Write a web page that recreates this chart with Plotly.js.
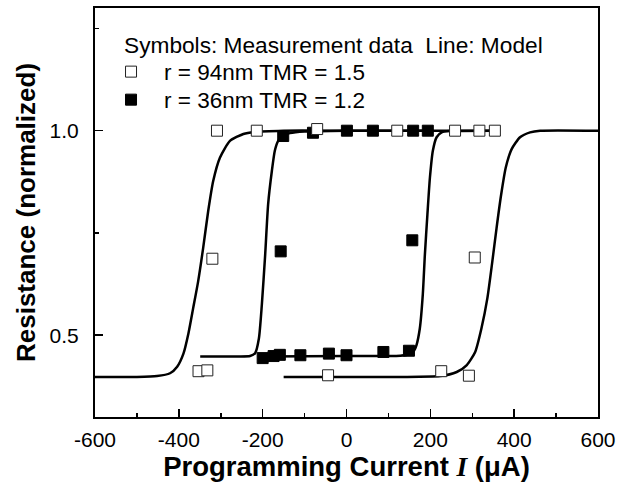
<!DOCTYPE html>
<html>
<head>
<meta charset="utf-8">
<script src="https://cdn.plot.ly/plotly-3.0.1.min.js"></script>
<style>
  html, body { margin: 0; padding: 0; background: #fff; }
  #chart { width: 621px; height: 491px; }
</style>
</head>
<body>
<div id="chart"></div>
<script>
// Measured points, r = 94nm (TMR = 1.5): current in uA, normalized resistance
const meas94X = [-309, -214, -70, 121, 259, 317, 354, -320, 306, -353, -332, -44, 226, 292];
const meas94Y = [1.0, 1.0, 1.004, 1.0, 1.0, 1.0, 1.0, 0.687, 0.690, 0.412, 0.414, 0.402, 0.412, 0.401];

// Measured points, r = 36nm (TMR = 1.2)
const meas36X = [-151, -80, 1, 63, 159, 194, -157, 157, -200, -174, -159, -110, -42, 0, 88, 149];
const meas36Y = [0.987, 0.995, 1.0, 1.0, 1.0, 1.0, 0.705, 0.732, 0.444, 0.449, 0.452, 0.451, 0.455, 0.451, 0.459, 0.462];

// Model curves, r = 94nm: switching branch near -350 uA and near +350 uA
const model94aX = [-600, -500, -452, -421, -404, -389, -377, -366, -354, -342, -330, -318, -302, -278, -246, -220, -150, 0, 200, 366];
const model94aY = [0.398, 0.398, 0.400, 0.407, 0.423, 0.455, 0.505, 0.565, 0.631, 0.713, 0.803, 0.877, 0.934, 0.975, 0.992, 0.997, 1.0, 1.0, 1.0, 1.0];
const model94bX = [-150, 0, 128, 223, 263, 287, 307, 322, 336, 348, 358, 369, 380, 394, 414, 438, 462, 600];
const model94bY = [0.398, 0.398, 0.398, 0.400, 0.410, 0.427, 0.459, 0.517, 0.590, 0.681, 0.762, 0.844, 0.910, 0.955, 0.984, 0.996, 1.0, 1.0];

// Model curves, r = 36nm: switching near -195 uA and near +185 uA
const model36aX = [-349, -260, -230, -218, -209, -202, -194, -187, -178, -171, -163, -151, -135, -100, 0, 200];
const model36aY = [0.448, 0.448, 0.449, 0.456, 0.492, 0.574, 0.697, 0.820, 0.902, 0.951, 0.975, 0.988, 0.994, 0.998, 1.0, 1.0];
const model36bX = [-200, 0, 128, 151, 161, 167, 175, 182, 187, 193, 199, 206, 215, 227, 247, 366];
const model36bY = [0.448, 0.449, 0.450, 0.454, 0.462, 0.476, 0.517, 0.599, 0.697, 0.795, 0.885, 0.951, 0.984, 0.996, 0.999, 1.0];

// Axis tick positions and their labels
const xTickVals = [-600, -400, -200, 0, 200, 400, 600];
const xTickText = ['-600', '-400', '-200', '0', '200', '400', '600'];
const yTickVals = [0.5, 1.0];
const yTickText = ['0.5', '1.0'];

const xTitle = 'Programming Current <i><span style="font-family:\'Times New Roman\',\'Liberation Serif\',serif">I</span></i> (μA)';
const yTitle = 'Resistance (normalized)';
const headerText = 'Symbols: Measurement data\u00a0\u00a0Line: Model';
const name94 = 'r = 94nm TMR = 1.5';
const name36 = 'r = 36nm TMR = 1.2';

const FONT = 'Arial, "Liberation Sans", Helvetica, sans-serif';

function modelLine(x, y) {
  return {
    x: x, y: y, type: 'scatter', mode: 'lines',
    line: { color: '#000', width: 2.5, shape: 'spline', smoothing: 0.6 },
    showlegend: false, hoverinfo: 'skip'
  };
}

const traces = [
  modelLine(model94aX, model94aY),
  modelLine(model94bX, model94bY),
  modelLine(model36aX, model36aY),
  modelLine(model36bX, model36bY),
  {
    x: meas36X, y: meas36Y, type: 'scatter', mode: 'markers', name: name36,
    legend: 'legend2',
    marker: { symbol: 'square', size: 11, color: '#000', line: { color: '#000', width: 1 } }
  },
  {
    x: meas94X, y: meas94Y, type: 'scatter', mode: 'markers', name: name94,
    legend: 'legend',
    marker: { symbol: 'square', size: 11, color: '#fff', line: { color: '#222', width: 1 } }
  }
];

const axisCommon = {
  showline: true, linewidth: 2, linecolor: '#000', mirror: true,
  showgrid: false, zeroline: false,
  ticks: 'inside', ticklen: 8, tickwidth: 1.5, tickcolor: '#000',
  tickfont: { family: FONT, size: 21, color: '#000' }
};

const legendCommon = {
  xanchor: 'left', yanchor: 'middle',
  bgcolor: 'rgba(0,0,0,0)', borderwidth: 0,
  font: { family: FONT, size: 22.5, color: '#000' },
  itemwidth: 56
};

const layout = {
  width: 621, height: 491,
  margin: { l: 95, r: 23, t: 8, b: 74 },
  paper_bgcolor: '#fff', plot_bgcolor: '#fff',
  font: { family: FONT, color: '#000' },
  xaxis: Object.assign({}, axisCommon, {
    range: [-600, 600], tickmode: 'array', tickvals: xTickVals, ticktext: xTickText,
    minor: { dtick: 100, tick0: 0, ticks: 'inside', ticklen: 4, tickwidth: 1.5, tickcolor: '#000', showgrid: false },
    ticklabelstandoff: 3,
    title: { text: xTitle, font: { family: FONT, size: 27.5, weight: 'bold', color: '#000' }, standoff: 6 }
  }),
  yaxis: Object.assign({}, axisCommon, {
    range: [0.3, 1.3], tickmode: 'array', tickvals: yTickVals, ticktext: yTickText,
    minor: { dtick: 0.25, tick0: 0, ticks: 'inside', ticklen: 4, tickwidth: 1.5, tickcolor: '#000', showgrid: false },
    ticklabelstandoff: 10,
    title: { text: yTitle, font: { family: FONT, size: 26, weight: 'bold', color: '#000' }, standoff: 6 }
  }),
  legend: Object.assign({}, legendCommon, { x: 0.006, y: 0.8435 }),
  legend2: Object.assign({}, legendCommon, { x: 0.006, y: 0.775 }),
  annotations: [{
    text: headerText, xref: 'paper', yref: 'paper',
    x: 0.0537, y: 0.9095, xanchor: 'left', yanchor: 'middle',
    showarrow: false, font: { family: FONT, size: 22.7, color: '#000' }
  }]
};

Plotly.newPlot('chart', traces, layout, { displayModeBar: false, staticPlot: true });
</script>
</body>
</html>
